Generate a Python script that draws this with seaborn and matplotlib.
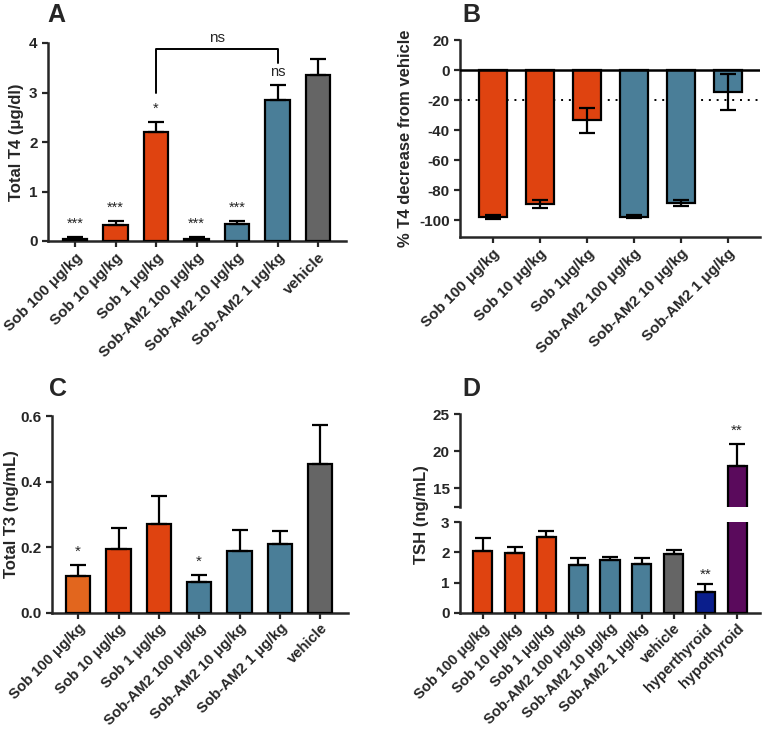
import numpy as np
import pandas as pd
import seaborn as sns
import matplotlib.pyplot as plt

# ---- data ----
labels_a = ['Sob 100 μg/kg', 'Sob 10 μg/kg', 'Sob 1 μg/kg', 'Sob-AM2 100 μg/kg',
            'Sob-AM2 10 μg/kg', 'Sob-AM2 1 μg/kg', 'vehicle']
t4_mean = [0.05, 0.33, 2.21, 0.05, 0.35, 2.85, 3.35]
t4_err = [0.03, 0.08, 0.19, 0.03, 0.05, 0.30, 0.33]
t4_stars = ['***', '***', '*', '***', '***', 'ns', '']

labels_b = ['Sob 100 μg/kg', 'Sob 10 μg/kg', 'Sob 1μg/kg', 'Sob-AM2 100 μg/kg',
            'Sob-AM2 10 μg/kg', 'Sob-AM2 1 μg/kg']
dec_mean = [-97.5, -89.0, -33.5, -97.5, -88.5, -14.5]
dec_err = [1.2, 2.5, 8.5, 1.0, 2.0, 12.0]

labels_c = labels_a
t3_mean = [0.113, 0.195, 0.272, 0.094, 0.19, 0.21, 0.455]
t3_err = [0.033, 0.065, 0.083, 0.022, 0.062, 0.04, 0.117]
t3_stars = ['*', '', '', '*', '', '', '']

labels_d = labels_a + ['hyperthyroid', 'hypothyroid']
tsh_mean = [2.03, 1.98, 2.5, 1.58, 1.75, 1.6, 1.93, 0.7, 18.0]
tsh_err = [0.45, 0.2, 0.2, 0.22, 0.1, 0.22, 0.16, 0.25, 3.0]
tsh_stars = ['', '', '', '', '', '', '', '**', '**']

ORANGE = '#DF4310'
LORANGE = '#E2661E'
BLUE = '#4A7E98'
GRAY = '#656565'
NAVY = '#0A1E8C'
PURPLE = '#5A0A5C'

cols_a = [ORANGE] * 3 + [BLUE] * 3 + [GRAY]
cols_b = [ORANGE] * 3 + [BLUE] * 3
cols_c = [LORANGE] + [ORANGE] * 2 + [BLUE] * 3 + [GRAY]
cols_d = [ORANGE] * 3 + [BLUE] * 3 + [GRAY, NAVY, PURPLE]

sns.set_style('ticks')
plt.rcParams['font.family'] = ['Liberation Sans', 'DejaVu Sans']
plt.rcParams['axes.unicode_minus'] = False
plt.rcParams['axes.linewidth'] = 1.8
plt.rcParams['xtick.major.width'] = 1.6
plt.rcParams['ytick.major.width'] = 1.6
plt.rcParams['xtick.major.size'] = 4
plt.rcParams['ytick.major.size'] = 4

W, H = 763, 730
fig = plt.figure(figsize=(W / 100, H / 100), dpi=100)

TICK_FS = 11
LAB_FS = 12
LET_FS = 18


def box(x0, x1, ytop, ybot):
    return [x0 / W, 1 - ybot / H, (x1 - x0) / W, (ybot - ytop) / H]


def bars(ax, labels, vals, errs, cols, sym=False):
    df = pd.DataFrame({'g': labels, 'v': vals})
    sns.barplot(data=df, x='g', y='v', hue='g', palette=cols, legend=False,
                width=0.6, edgecolor='black', linewidth=1.6, saturation=1,
                ax=ax, zorder=3)
    x = np.arange(len(vals))
    lower = errs if sym else np.zeros(len(errs))
    ax.errorbar(x, vals, yerr=[lower, errs], fmt='none', ecolor='black',
                elinewidth=1.6, capsize=5.5, capthick=1.6, zorder=4)
    ax.set_xlabel('')
    sns.despine(ax=ax)


def xlabels(ax, labels, fs=TICK_FS, pad=3):
    ax.set_xticks(range(len(labels)))
    ax.set_xticklabels(labels, rotation=45, ha='right', rotation_mode='anchor',
                       fontsize=fs, fontweight='bold')
    ax.tick_params(axis='x', pad=pad)
    for t in ax.get_yticklabels():
        t.set_fontweight('bold')
        t.set_fontsize(TICK_FS)


def letter(s, x, y):
    fig.text(x / W, 1 - y / H, s, fontsize=LET_FS, fontweight='bold',
             ha='left', va='center')


# ---- A ----
axA = fig.add_axes(box(48, 346, 43, 241))
bars(axA, labels_a, t4_mean, t4_err, cols_a)
axA.set_ylim(0, 4)
axA.set_yticks([0, 1, 2, 3, 4])
axA.set_xlim(-0.67, 6.69)
xlabels(axA, labels_a)
axA.set_ylabel('Total T4 (μg/dl)', fontsize=LAB_FS, fontweight='bold')
for i, s in enumerate(t4_stars):
    if s:
        axA.text(i, t4_mean[i] + t4_err[i] + 0.12, s, ha='center', va='bottom', fontsize=10.5)
axA.plot([2, 2, 5, 5], [3.0, 3.88, 3.88, 3.6], color='black', lw=1.4, clip_on=False)
axA.text(3.5, 3.96, 'ns', ha='center', va='bottom', fontsize=11)
letter('A', 47, 15)

# ---- B ----
axB = fig.add_axes(box(460, 760, 40, 237))
axB.axhline(-20, color='black', lw=1.4, ls=(0, (1, 3)), zorder=1)
bars(axB, labels_b, dec_mean, dec_err, cols_b, sym=True)
axB.axhline(0, color='black', lw=1.8, zorder=5)
axB.set_ylim(-111, 20)
axB.set_yticks([20, 0, -20, -40, -60, -80, -100])
axB.set_xlim(-0.7, 5.68)
xlabels(axB, labels_b)
axB.set_ylabel('% T4 decrease from vehicle', fontsize=LAB_FS, fontweight='bold')
letter('B', 462, 15)

# ---- C ----
axC = fig.add_axes(box(52, 348, 416, 613))
bars(axC, labels_c, t3_mean, t3_err, cols_c)
axC.set_ylim(0, 0.6)
axC.set_yticks([0.0, 0.2, 0.4, 0.6])
axC.set_yticklabels(['0.0', '0.2', '0.4', '0.6'])
axC.set_xlim(-0.65, 6.69)
xlabels(axC, labels_c, fs=10.7, pad=2)
axC.set_ylabel('Total T3 (ng/mL)', fontsize=LAB_FS, fontweight='bold', labelpad=1)
for i, s in enumerate(t3_stars):
    if s:
        axC.text(i, t3_mean[i] + t3_err[i] + 0.018, s, ha='center', va='bottom', fontsize=11)
letter('C', 49, 389)

# ---- D (broken axis) ----
axD2 = fig.add_axes(box(460, 760, 414, 507))
axD1 = fig.add_axes(box(460, 760, 522, 613))
bars(axD1, labels_d, tsh_mean, tsh_err, cols_d)
bars(axD2, labels_d, tsh_mean, tsh_err, cols_d)
axD1.set_ylim(0, 3)
axD1.set_yticks([0, 1, 2, 3])
axD2.set_ylim(12.5, 25)
axD2.set_yticks([12.5, 15, 20, 25])
axD2.set_yticklabels(['', '15', '20', '25'])
for a in (axD1, axD2):
    a.set_xlim(-0.72, 8.72)
    a.set_ylabel('')
xlabels(axD1, labels_d, fs=10.5, pad=2)
axD2.spines['bottom'].set_visible(False)
axD2.tick_params(axis='x', bottom=False, labelbottom=False)
for t in axD2.get_yticklabels():
    t.set_fontweight('bold')
    t.set_fontsize(TICK_FS)
for i, s in enumerate(tsh_stars):
    if s:
        top = tsh_mean[i] + tsh_err[i]
        if top > 3:
            axD2.text(i, top + 0.8, s, ha='center', va='bottom', fontsize=11)
        else:
            axD1.text(i, top + 0.08, s, ha='center', va='bottom', fontsize=11)
fig.text(421 / W, 1 - 515 / H, 'TSH (ng/mL)', rotation=90, ha='center', va='center',
         fontsize=LAB_FS, fontweight='bold')
letter('D', 462, 389)

fig.savefig('out.png', dpi=100)
